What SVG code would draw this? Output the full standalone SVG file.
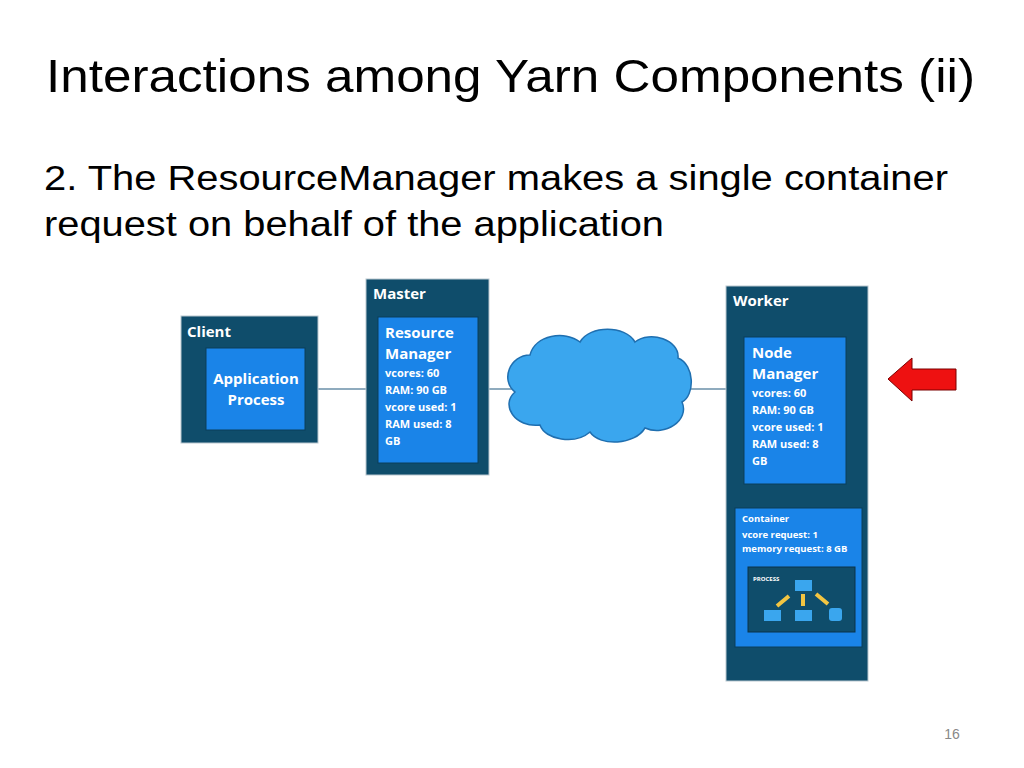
<svg xmlns="http://www.w3.org/2000/svg" width="1024" height="768" viewBox="0 0 1024 768">
<style>
.t{font-family:"Liberation Sans",Arial,sans-serif;fill:#000}
.dk{fill:#0f4d6b;stroke:#b9c7d0;stroke-width:1}
.bl{fill:#1a84e8;stroke:#0b3e5a;stroke-width:1}
.w{font-family:"Open Sans","Liberation Sans",sans-serif;fill:#fff;font-weight:bold}
.ln{stroke:#6a8fa8;stroke-width:1.5;fill:none}
</style>
<rect width="1024" height="768" fill="#fff"/>
<text class="t" x="46" y="92" font-size="46" textLength="929" lengthAdjust="spacingAndGlyphs">Interactions among Yarn Components (ii)</text>
<text class="t" x="44" y="190" font-size="35" textLength="904" lengthAdjust="spacingAndGlyphs">2. The ResourceManager makes a single container</text>
<text class="t" x="44" y="236" font-size="35" textLength="620" lengthAdjust="spacingAndGlyphs">request on behalf of the application</text>
<g id="connectors">
<line class="ln" x1="305" y1="389" x2="378" y2="389"/>
<line class="ln" x1="478" y1="389" x2="512" y2="389"/>
<line class="ln" x1="688" y1="389" x2="726" y2="389"/>
</g>
<g id="client">
<rect class="dk" x="181" y="316" width="137" height="127"/>
<text class="w" x="187" y="337" font-size="15">Client</text>
<rect class="bl" x="206" y="348" width="99" height="82"/>
<text class="w" x="256" y="384" font-size="15" text-anchor="middle">Application</text>
<text class="w" x="256" y="405" font-size="15" text-anchor="middle">Process</text>
</g>
<g id="master">
<rect class="dk" x="366" y="279" width="123" height="196"/>
<text class="w" x="373" y="299" font-size="15">Master</text>
<rect class="bl" x="378" y="317" width="100" height="146"/>
<text class="w" x="385" y="338" font-size="15">Resource</text>
<text class="w" x="385" y="359" font-size="15">Manager</text>
<text class="w" x="385" y="377" font-size="11">vcores: 60</text>
<text class="w" x="385" y="394" font-size="11">RAM: 90 GB</text>
<text class="w" x="385" y="411" font-size="11">vcore used: 1</text>
<text class="w" x="385" y="428" font-size="11">RAM used: 8</text>
<text class="w" x="385" y="445" font-size="11">GB</text>
</g>
<g id="cloud">
<path d="M530 355 C535 335 565 330 580 342 C590 325 625 325 635 342 C650 330 680 340 678 358 C695 365 695 395 682 402 C690 420 665 437 645 428 C635 445 600 447 590 432 C575 445 545 440 540 425 C515 428 500 405 515 392 C500 380 510 355 530 355 Z" fill="#3aa6ee" stroke="#1f6fb0" stroke-width="1.5"/>
</g>
<g id="worker">
<rect class="dk" x="726" y="286" width="142" height="395"/>
<text class="w" x="733" y="306" font-size="15">Worker</text>
<rect class="bl" x="744" y="337" width="102" height="147"/>
<text class="w" x="752" y="358" font-size="15">Node</text>
<text class="w" x="752" y="379" font-size="15">Manager</text>
<text class="w" x="752" y="397" font-size="11">vcores: 60</text>
<text class="w" x="752" y="414" font-size="11">RAM: 90 GB</text>
<text class="w" x="752" y="431" font-size="11">vcore used: 1</text>
<text class="w" x="752" y="448" font-size="11">RAM used: 8</text>
<text class="w" x="752" y="465" font-size="11">GB</text>
<rect class="bl" x="735" y="508" width="127" height="139"/>
<text class="w" x="742" y="522" font-size="9.5">Container</text>
<text class="w" x="742" y="538" font-size="9.5">vcore request: 1</text>
<text class="w" x="742" y="552" font-size="9.5">memory request: 8 GB</text>
<rect x="748" y="567" width="107" height="65" fill="#0f4d6b" stroke="#0a3348"/>
<text class="w" x="753" y="581" font-size="6">PROCESS</text>
<rect x="795" y="580" width="17" height="11" fill="#3aa6ee"/>
<rect x="764" y="610" width="17" height="11" fill="#3aa6ee"/>
<rect x="795" y="610" width="17" height="11" fill="#3aa6ee"/>
<rect x="829" y="608" width="13" height="13" rx="3" fill="#3aa6ee"/>
<path d="M777 606 L789 596 M803 594 L803 606 M816 594 L828 604" stroke="#f2c542" stroke-width="4"/>
</g>
<g id="red-arrow">
<path d="M888 379 L912 358 L912 369 L956 369 L956 390 L912 390 L912 401 Z" fill="#ee1111" stroke="#7a0000" stroke-width="1"/>
</g>
<text class="t" x="952" y="739" font-size="14" text-anchor="middle" style="fill:#888">16</text>
</svg>
